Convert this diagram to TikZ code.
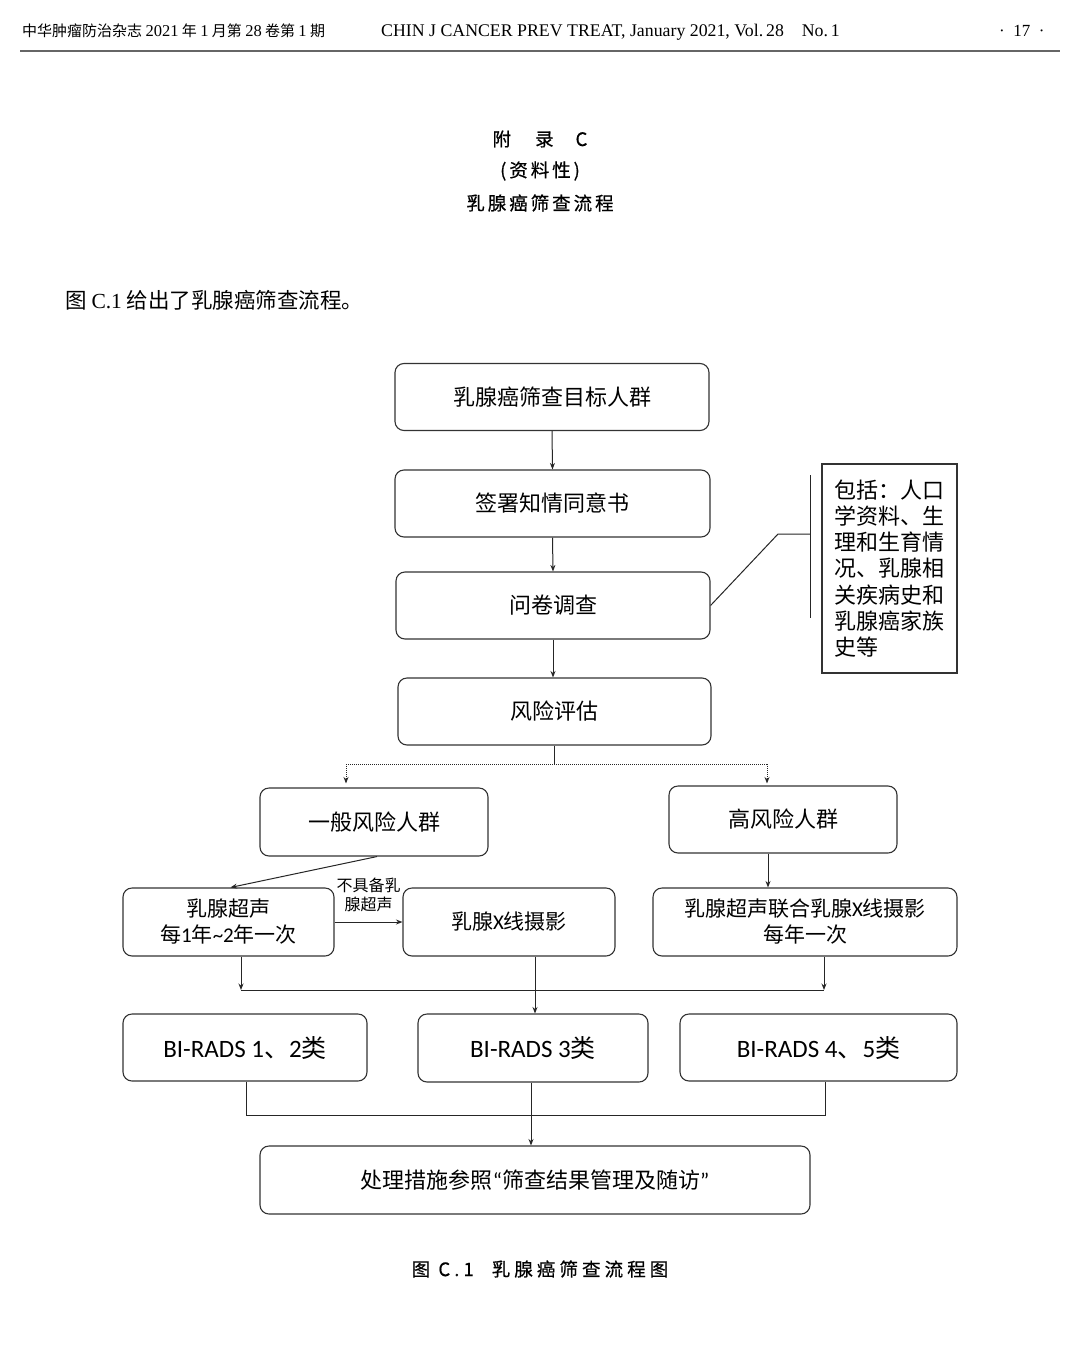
\documentclass[tikz,border=0pt]{standalone}
\usepackage{fontspec}
\setmainfont{Noto Sans CJK SC}
\newfontfamily\serif{Liberation Serif}
\newfontfamily\carl{Carlito}
\newfontfamily\spaced{Noto Sans CJK SC}[LetterSpace=16, FakeBold=0.6]
\newfontfamily\spacedb{Noto Sans CJK SC}[LetterSpace=22, FakeBold=0.6]
\usetikzlibrary{arrows.meta}
\tikzset{
  box/.style={draw=black!80, line width=1.1pt, rounded corners=9pt, minimum height=67pt,
    inner sep=0pt, align=center, font=\fontsize{22}{26}\selectfont},
  notebox/.style={draw=black!80, line width=1.1pt, minimum width=135pt, minimum height=209pt,
    inner sep=0pt, align=left, text width=111pt, font=\fontsize{22}{26.3}\selectfont},
  arr/.style={draw=black!85, line width=1pt, -{Stealth[length=6.5pt,width=5pt]}},
  ln/.style={draw=black!85, line width=1pt},
  hdr/.style={anchor=base west, inner sep=0pt, font=\fontsize{14}{16}\selectfont},
  ttl/.style={inner sep=0pt, font=\fontsize{18.5}{20}\selectfont\spaced}
}
\begin{document}
\begin{tikzpicture}[x=1pt,y=-1pt]
\useasboundingbox (0,0) rectangle (1080,1346);
\fill[white] (0,0) rectangle (1080,1346);

% header
\node[hdr, font=\fontsize{15}{16}\selectfont] (hl) at (22,37) {中华肿瘤防治杂志 {\serif\fontsize{16.5}{16}\selectfont 2021} 年 {\serif\fontsize{16.5}{16}\selectfont 1} 月第 {\serif\fontsize{16.5}{16}\selectfont 28} 卷第 {\serif\fontsize{16.5}{16}\selectfont 1} 期};
\node[hdr, font=\fontsize{17.8}{18}\selectfont\serif] (hm) at (381,37) {CHIN J CANCER PREV TREAT, January 2021, Vol.\,28\quad No.\,1};
\node[hdr, font=\fontsize{17}{18}\selectfont\serif] (hr) at (999,37) {·\enspace17\enspace·};
\coordinate (hla) at (20,51);
\coordinate (hlb) at (1060,51);
\draw[black!60, line width=1.2pt] (hla) -- (hlb);

% title
\node[ttl] (t1) at (540,139) {附\hspace{24pt}录\hspace{22pt}C};
\node[ttl] (t2) at (540,171) {(资料性)};
\node[ttl] (t3) at (540,203) {乳腺癌筛查流程};

\node[anchor=base west, inner sep=0pt, font=\fontsize{21.5}{24}\selectfont] (intro) at (65,308) {图 {\serif C.1} 给出了乳腺癌筛查流程。};

% flow boxes
\node[box, minimum width=314pt] (target) at (552,397) {乳腺癌筛查目标人群};
\node[box, minimum width=315pt] (consent) at (552.5,503.5) {签署知情同意书};
\node[box, minimum width=314pt] (quest) at (553,605.5) {问卷调查};
\node[box, minimum width=313pt] (risk) at (554.5,711.5) {风险评估};
\node[notebox] (note) at (889.5,568.5) {包括：人口\\学资料、生\\理和生育情\\况、乳腺相\\关疾病史和\\乳腺癌家族\\史等};

\node[box, minimum width=228pt, minimum height=68pt] (gen) at (374,822) {一般风险人群};
\node[box, minimum width=228pt] (high) at (783,819.5) {高风险人群};

\node[box, minimum width=211pt, minimum height=68pt, font=\fontsize{21}{26}\selectfont] (us) at (228.5,922) {乳腺超声\\每{\carl 1}年{\carl \textasciitilde 2}年一次};
\node[box, minimum width=212pt, minimum height=68pt, font=\fontsize{21}{26}\selectfont] (mx) at (509,922) {乳腺{\carl X}线摄影};
\node[box, minimum width=304pt, minimum height=68pt, font=\fontsize{21}{26}\selectfont] (comb) at (805,922) {乳腺超声联合乳腺{\carl X}线摄影\\每年一次};

\node[box, minimum width=244pt, font=\fontsize{25}{28}\selectfont] (b12) at (245,1047.5) {{\carl BI-RADS 1}、{\carl 2}类};
\node[box, minimum width=230pt, minimum height=68pt, font=\fontsize{25}{28}\selectfont] (b3) at (533,1048) {{\carl BI-RADS 3}类};
\node[box, minimum width=277pt, font=\fontsize{25}{28}\selectfont] (b45) at (818.5,1047.5) {{\carl BI-RADS 4}、{\carl 5}类};

\node[box, minimum width=550pt, minimum height=68pt, font=\fontsize{22}{26}\selectfont] (proc) at (535,1180) {处理措施参照{\carl “}筛查结果管理及随访{\carl ”}};

% caption
\node[inner sep=0pt, font=\fontsize{18.5}{20}\selectfont\spacedb] (cap) at (540,1269) {图 C.1\hspace{18pt}乳腺癌筛查流程图};

% connectors
\draw[arr] (target.south) -- (consent.north);
\draw[arr] (consent.south) -- (quest.north);
\draw[arr] (quest.south) -- (quest.south |- risk.north);

\coordinate (qa) at (778,534);
\coordinate (qb) at (810,534);
\coordinate (brt) at (810,475);
\coordinate (brb) at (810,618);
\draw[ln] (quest.east) -- (qa) -- (qb);
\draw[ln] (brt) -- (brb);

\coordinate (split) at (554.5,764);
\coordinate (sl) at (346,764);
\coordinate (sr) at (767,764);
\draw[ln] (risk.south) -- (split);
\draw[ln, densely dotted] (sl) -- (sr);
\draw[arr, densely dotted, shorten >=4pt] (sl) -- (sl |- gen.north);
\draw[arr, densely dotted, shorten >=2pt] (sr) -- (sr |- high.north);

\draw[arr] ([xshift=3pt]gen.south) -- ([xshift=2pt]us.north);
\draw[arr] ([xshift=-15pt]high.south) -- ([xshift=-15pt]high.south |- comb.north);
\draw[arr] (us.east) -- (mx.west)
  node[midway, anchor=south, yshift=10pt, inner sep=0pt, align=center, font=\fontsize{16}{19}\selectfont] (lbl) {不具备乳\\腺超声};

\coordinate (m1l) at (241,990);
\coordinate (m1r) at (824,990);
\coordinate (m1c) at (535,990);
\draw[arr] (us.south -| m1l) -- (m1l);
\draw[arr] (comb.south -| m1r) -- (m1r);
\draw[ln] (m1l) -- (m1r);
\draw[arr] (mx.south -| m1c) -- (b3.north -| m1c);

\coordinate (m2l) at (246,1115);
\coordinate (m2r) at (825,1115);
\draw[ln] (b12.south -| m2l) -- (m2l) -- (m2r) -- (b45.south -| m2r);
\draw[arr] (b3.south -| 531,0) -- (proc.north -| 531,0);
\end{tikzpicture}
\end{document}
